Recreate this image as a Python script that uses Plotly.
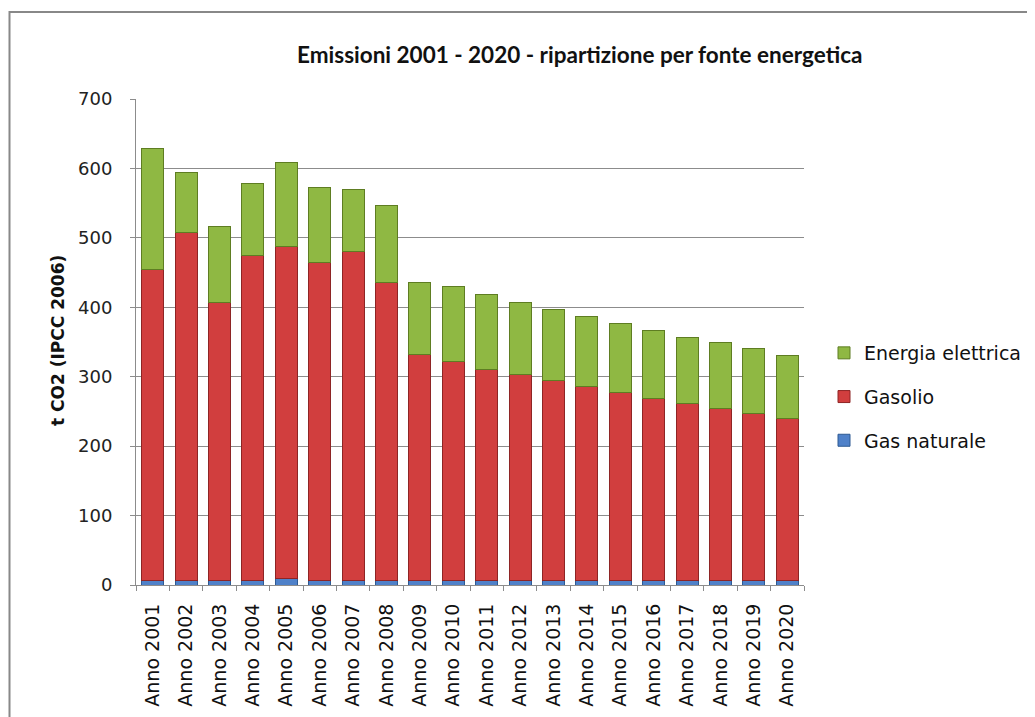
import plotly.graph_objects as go

years = [f"Anno {y}" for y in range(2001, 2021)]
# cumulative tops
totale = [628, 594, 516, 579, 608, 572, 569, 547, 435, 430, 418, 407, 397, 387, 377, 367, 356, 349, 340, 330]
top_gasolio = [454, 508, 407, 475, 487, 464, 480, 435, 332, 322, 311, 303, 295, 286, 277, 269, 262, 254, 247, 240]
gas_naturale = [7, 7, 7, 7, 9, 7, 7, 7, 7, 7, 7, 7, 7, 7, 7, 7, 7, 7, 7, 7]
gasolio = [t - g for t, g in zip(top_gasolio, gas_naturale)]
energia = [t - r for t, r in zip(totale, top_gasolio)]

FONT = "DejaVu Sans"
TITLE_FONT = "Lato"

# page body has an 8px margin: work in reference pixels and convert
PL, PR, PT, PB = 136, 804, 99, 585   # plot area in reference pixels
W, H = 1035 - 8, 717 - 8


def px(xr):
    return (xr - PL) / (PR - PL)


def py(yr):
    return (PB - yr) / (PB - PT)


fig = go.Figure()
fig.add_trace(go.Bar(x=years, y=gas_naturale, name="Gas naturale", legendgroup="g", legendrank=3,
                     marker=dict(color="#4F81C9", line=dict(color="#2E5A93", width=1))))
fig.add_trace(go.Bar(x=years, y=gasolio, name="Gasolio", legendgroup="r", legendrank=2,
                     marker=dict(color="#D13E3E", line=dict(color="#8E2424", width=1))))
fig.add_trace(go.Bar(x=years, y=energia, name="Energia elettrica", legendgroup="e", legendrank=1,
                     marker=dict(color="#8FB843", line=dict(color="#5E7D22", width=1))))

fig.update_layout(
    barmode="stack", bargap=0.34,
    width=W, height=H,
    margin=dict(l=PL - 8, r=W - (PR - 8), t=PT - 8, b=H - (PB - 8), autoexpand=False),
    paper_bgcolor="white", plot_bgcolor="white",
    font=dict(family=FONT, color="#222222"),
    legend=dict(x=px(824), y=py(397), yanchor="middle", xanchor="left",
                font=dict(size=19, family=FONT, color="#111111"),
                traceorder="grouped", itemwidth=30, tracegroupgap=16,
                bgcolor="rgba(0,0,0,0)"),
    showlegend=True,
)
fig.update_yaxes(range=[0, 700], dtick=100, showgrid=True, gridcolor="#8C8C8C", gridwidth=1,
                 showline=True, linecolor="#8C8C8C", linewidth=1,
                 ticks="outside", ticklen=5, tickcolor="#8C8C8C", ticklabelstandoff=14,
                 tickfont=dict(size=18, family=FONT, color="#222222"), zeroline=False)
fig.update_xaxes(showline=True, linecolor="#8C8C8C", linewidth=1, tickangle=-90,
                 ticks="outside", ticklen=5, tickcolor="#8C8C8C", tickson="boundaries",
                 ticklabelstandoff=10,
                 tickfont=dict(size=19, family=FONT, color="#111111"))

fig.add_annotation(text="<b>Emissioni 2001 - 2020 - ripartizione per fonte energetica</b>",
                   xref="paper", yref="paper", x=px(579), y=py(55),
                   showarrow=False, font=dict(size=22.5, family=TITLE_FONT, color="#111111"),
                   xanchor="center", yanchor="middle")
fig.add_annotation(text="<b>t CO2 (IPCC 2006)</b>", textangle=-90,
                   xref="paper", yref="paper", x=px(58), y=py(341),
                   showarrow=False, font=dict(size=17, family=FONT, color="#111111"),
                   xanchor="center", yanchor="middle")
fig.add_shape(type="rect", xref="paper", yref="paper",
              x0=px(9.5), x1=px(1050), y0=py(735), y1=py(12),
              line=dict(color="#888888", width=2), fillcolor="rgba(0,0,0,0)", layer="below")

fig.write_html("out.html")
